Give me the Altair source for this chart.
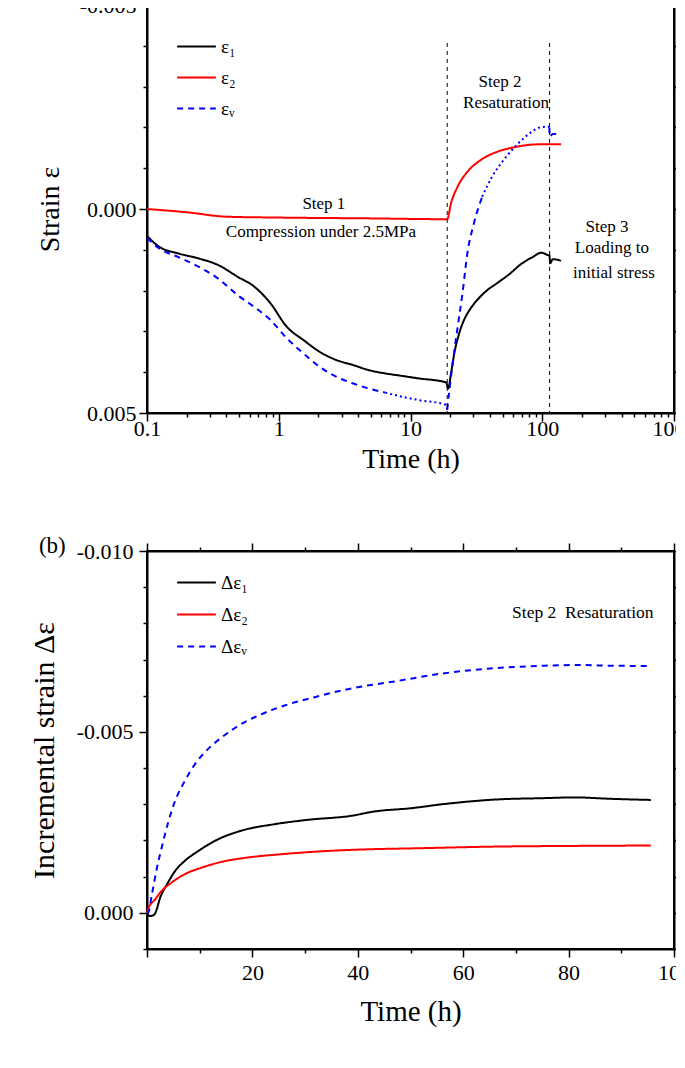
import altair as alt
import pandas as pd

FONT = "Liberation Serif"
MINUS = "\u2212"

# ---------------- Panel (a): strain vs time (log) ----------------
SERIES_A = ["ε₁", "ε₂", "εᵥ"]

E1_T = [0.1, 0.123, 0.173, 0.245, 0.345, 0.487, 0.65, 0.865, 1.153, 1.537,
        2.045, 2.727, 3.63, 4.83, 6.44, 8.59, 11.43, 18.65, 19.3, 20.3,
        21.5, 23.4, 25.5, 28.7, 32.1, 38.2, 45.3, 57.1, 67.8, 85.3,
        98.4, 110.4, 113.5, 114.8, 120.3, 138.8]
E1_V = [0.00066, 0.00092, 0.00109, 0.00121, 0.00137, 0.00166, 0.0019, 0.00231, 0.00289, 0.00321,
        0.0035, 0.0037, 0.00382, 0.00395, 0.00403, 0.00409, 0.00415, 0.00425, 0.0044, 0.00403,
        0.00354, 0.00305, 0.00272, 0.00243, 0.00223, 0.00199, 0.00182, 0.00158, 0.00137, 0.00117,
        0.00107, 0.00113, 0.00114, 0.00133, 0.00123, 0.00127]

E2_T = [0.1, 0.2, 0.41, 1.0, 5.0, 19.0, 20.3, 22.8, 27.0, 34.1, 45.3, 60.4, 85.3, 113.7, 138.8]
E2_V = [0.0, 0.00008, 0.00019, 0.00021, 0.00023, 0.00025, -0.00014, -0.00055, -0.00091, -0.0012,
        -0.0014, -0.00151, -0.00158, -0.00159, -0.00159]

# volumetric strain, drawn in dashed (A, C, E) and dotted (B, D) pieces
EV_A_T = [0.1, 0.123, 0.173, 0.245, 0.345, 0.487, 0.65, 0.865, 1.153, 1.537, 2.045, 2.727, 3.63, 4.83, 6.44]
EV_A_V = [0.00071, 0.00096, 0.00118, 0.00141, 0.0017, 0.00211, 0.0024, 0.00272, 0.00317, 0.00354,
          0.00387, 0.00411, 0.00427, 0.0044, 0.0045]
EV_B_T = [6.44, 8.59, 11.43, 18.65, 19.0]
EV_B_V = [0.0045, 0.0046, 0.00468, 0.0048, 0.00492]
EV_C_T = [19.0, 19.74, 20.9, 22.8, 24.8, 27.0, 30.3, 35.0]
EV_C_V = [0.00492, 0.00444, 0.00378, 0.00289, 0.00207, 0.00109, 0.00035, -0.0003]
EV_D_T = [35.0, 41.6, 50.9, 64.0, 80.6, 95.7, 110.4, 113.3]
EV_D_V = [-0.0003, -0.00079, -0.0012, -0.00157, -0.00186, -0.002, -0.00202, -0.002]
EV_E_T = [113.3, 113.7, 120.3, 138.8]
EV_E_V = [-0.002, -0.00177, -0.00184, -0.00184]

STEP_T = [19.0, 113.7]
STEP_TOP = -0.00407
STEP_BOTTOM = 0.005

ANNOT_A_TEXT = ["Step 1", "Compression under 2.5MPa", "Step 2", "Resaturation",
                "Step 3", "Loading to", "initial stress"]
ANNOT_A_T = [2.2, 2.09, 47.8, 53.1, 310.0, 338.0, 350.0]
ANNOT_A_V = [-0.00012, 0.00056, -0.00311, -0.0026, 0.00044, 0.00096, 0.00157]

X_A_TICKS = [round(m * 10.0 ** e, 6) for e in range(-1, 3) for m in range(1, 10)] + [1000.0]
Y_A_TICKS = [round(i * 0.001, 3) for i in range(-5, 6)]

# ---------------- Panel (b): incremental strain ----------------
SERIES_B = ["Δε₁", "Δε₂", "Δεᵥ"]
D1_T = [0.0, 0.5, 1.2, 1.6, 2.5, 3.8, 5.35, 7.2, 9.75, 12.9, 17.9, 24.2, 30.5, 38.7, 43.1,
        50.0, 56.6, 66.0, 75.5, 81.1, 88.1, 95.6]
D1_V = [-0.00002, 0.00009, 0.00007, 0.0, -0.00042, -0.00079, -0.00116, -0.00144, -0.00171, -0.00199,
        -0.00227, -0.00245, -0.00257, -0.00268, -0.0028, -0.00289, -0.00301, -0.00313, -0.00317,
        -0.00319, -0.00315, -0.00312]
D2_T = [0.0, 0.2, 1.6, 2.8, 4.7, 7.2, 10.4, 14.2, 19.2, 25.5, 34.3, 43.1, 50.0, 66.0, 81.8, 95.6]
D2_V = [0.0, -0.0001, -0.00038, -0.00061, -0.00084, -0.00107, -0.00125, -0.00141, -0.00153,
        -0.00162, -0.00171, -0.00176, -0.00178, -0.00183, -0.00185, -0.00186]
DV_T = [0.0, 0.2, 0.94, 1.9, 2.8, 4.1, 5.35, 7.2, 9.1, 11.6, 14.2, 17.9, 21.1, 26.1, 31.8, 36.8,
        41.8, 47.2, 55.3, 64.2, 70.4, 75.5, 81.4, 88.1, 95.3]
DV_V = [0.0, 0.0, -0.00052, -0.00125, -0.00181, -0.00254, -0.0031, -0.00365, -0.00411, -0.00453,
        -0.00485, -0.00522, -0.00545, -0.00573, -0.00596, -0.00614, -0.00628, -0.0064, -0.0066,
        -0.00674, -0.0068, -0.00683, -0.00685, -0.00683, -0.00682]

ANNOT_B_TEXT = ["Step 2\u00a0 Resaturation", "(b)"]
ANNOT_B_T = [82.7, -20.5]
ANNOT_B_V = [-0.00829, -0.01014]

X_B_TICKS = list(range(0, 101, 10))
Y_B_TICKS = [round(i * 0.001, 3) for i in range(-10, 2)]


def rows(series, seg, ts, vs):
    return [dict(t=t, v=v, series=series, seg=seg) for t, v in zip(ts, vs)]


top_lines = pd.DataFrame(
    rows(SERIES_A[0], "e1", E1_T, E1_V) + rows(SERIES_A[1], "e2", E2_T, E2_V)
    + rows(SERIES_A[2], "vA", EV_A_T, EV_A_V) + rows(SERIES_A[2], "vC", EV_C_T, EV_C_V)
    + rows(SERIES_A[2], "vE", EV_E_T, EV_E_V))
top_dotted = pd.DataFrame(rows(SERIES_A[2], "vB", EV_B_T, EV_B_V) + rows(SERIES_A[2], "vD", EV_D_T, EV_D_V))
steps = pd.DataFrame({"t": STEP_T, "y0": [STEP_TOP] * 2, "y1": [STEP_BOTTOM] * 2})
annot_a = pd.DataFrame({"t": ANNOT_A_T, "v": ANNOT_A_V, "label": ANNOT_A_TEXT})

bot_lines = pd.DataFrame(
    rows(SERIES_B[0], "d1", D1_T, D1_V) + rows(SERIES_B[1], "d2", D2_T, D2_V)
    + rows(SERIES_B[2], "dv", DV_T, DV_V))
annot_b1 = pd.DataFrame({"t": ANNOT_B_T[:1], "v": ANNOT_B_V[:1], "label": ANNOT_B_TEXT[:1]})
annot_b2 = pd.DataFrame({"t": ANNOT_B_T[1:], "v": ANNOT_B_V[1:], "label": ANNOT_B_TEXT[1:]})

COLORS = ["black", "red", "blue"]
DASHES = [[1, 0], [1, 0], [6, 5]]

DECADE = "abs(log(datum.value)/LN10 - round(log(datum.value)/LN10)) < 0.000001"
Y_MAJOR = "abs(datum.value*200 - round(datum.value*200)) < 0.000001"
X_B_MAJOR = "datum.value % 20 == 0"
YFMT = f"replace(format(datum.value, '.3f'), '{MINUS}', '-')"

W_A, H_A = 527, 408
W_B, H_B = 527, 398


def tsize(test, major=8, minor=4):
    return {"condition": {"test": test, "value": major}, "value": minor}


# axes panel (a)
xa_bottom = alt.Axis(values=X_A_TICKS, labelExpr=f"{DECADE} ? format(datum.value, '~g') : ''",
                     tickSize=tsize(DECADE), labelOverlap=False, labelFlush=False,
                     title="Time (h)", titleFontSize=28, titleX=W_A / 2, titleY=46,
                     titleBaseline="middle", labelPadding=-3, labelFont=FONT)
xa_top = alt.Axis(orient="top", values=X_A_TICKS, labels=False, title=None, tickSize=tsize(DECADE))
ya_left = alt.Axis(values=Y_A_TICKS, labelExpr=f"{Y_MAJOR} ? {YFMT} : ''", tickSize=tsize(Y_MAJOR),
                   labelOverlap=False, title="Strain ε", titleFontSize=28, titleX=-97, titleY=H_A / 2,
                   titleAngle=270, titleBaseline="middle", titleAlign="center", labelPadding=3,
                   labelFont=FONT)
ya_right = alt.Axis(orient="right", values=Y_A_TICKS, labels=False, title=None, tickSize=tsize(Y_MAJOR))

# axes panel (b)
xb_bottom = alt.Axis(values=X_B_TICKS,
                     labelExpr=f"{X_B_MAJOR} && datum.value > 0 ? format(datum.value, 'd') : ''",
                     tickSize=tsize(X_B_MAJOR), labelOverlap=False, labelFlush=False,
                     title="Time (h)", titleFontSize=29, titleX=W_B / 2, titleY=62,
                     titleBaseline="middle", labelPadding=5, labelFont=FONT)
xb_top = alt.Axis(orient="top", values=X_B_TICKS, labels=False, title=None, tickSize=tsize(X_B_MAJOR))
yb_left = alt.Axis(values=Y_B_TICKS, labelExpr=f"{Y_MAJOR} ? {YFMT} : ''", tickSize=tsize(Y_MAJOR),
                   labelOverlap=False, title="Incremental strain Δε", titleFontSize=30, titleX=-103,
                   titleY=H_B / 2, titleAngle=270, titleBaseline="middle", titleAlign="center",
                   labelPadding=6, labelFont=FONT)
yb_right = alt.Axis(orient="right", values=Y_B_TICKS, labels=False, title=None, tickSize=tsize(Y_MAJOR))


def legend(y, row_pad):
    return alt.Legend(title=None, orient="none", legendX=29, legendY=y, symbolType="stroke",
                      symbolSize=1500, symbolStrokeWidth=2, labelFont=FONT, labelFontSize=19,
                      labelColor="black", labelOffset=4,
                      rowPadding={"expr": str(row_pad)}, padding=0)


# ---- panel (a)
xs_a = alt.Scale(type="log", domain=[0.1, 1000], nice=False)
ys_a = alt.Scale(domain=[-0.005, 0.005], reverse=True, nice=False, zero=False)
leg_a = legend(21, -1)

lines_a = alt.Chart(top_lines).mark_line(strokeWidth=2, interpolate="monotone").encode(
    x=alt.X("t:Q", scale=xs_a, axis=xa_bottom),
    y=alt.Y("v:Q", scale=ys_a, axis=ya_left),
    color=alt.Color("series:N", scale=alt.Scale(domain=SERIES_A, range=COLORS), legend=leg_a),
    strokeDash=alt.StrokeDash("series:N", scale=alt.Scale(domain=SERIES_A, range=DASHES), legend=leg_a),
    detail="seg:N",
)
dotted_a = alt.Chart(top_dotted).mark_line(strokeWidth=2, color="blue", strokeDash=[2, 3],
                                           interpolate="monotone").encode(
    x=alt.X("t:Q", axis=None), y=alt.Y("v:Q", axis=None), detail="seg:N")
steps_a = alt.Chart(steps).mark_rule(strokeWidth=1, color="black", strokeDash=[4, 4]).encode(
    x=alt.X("t:Q", axis=xa_top), y=alt.Y("y0:Q", axis=ya_right), y2="y1:Q")
text_a = alt.Chart(annot_a).mark_text(font=FONT, fontSize=17, color="black", baseline="middle").encode(
    x=alt.X("t:Q", axis=None), y=alt.Y("v:Q", axis=None), text="label:N")

panel_a = alt.layer(lines_a, dotted_a, steps_a, text_a).resolve_axis(
    x="independent", y="independent").properties(width=W_A, height=H_A)

# ---- panel (b)
xs_b = alt.Scale(domain=[0, 100], nice=False, zero=False)
ys_b = alt.Scale(domain=[-0.010, 0.001], reverse=True, nice=False, zero=False)
leg_b = legend(11, 1)

lines_b = alt.Chart(bot_lines).mark_line(strokeWidth=2, interpolate="monotone").encode(
    x=alt.X("t:Q", scale=xs_b, axis=xb_bottom),
    y=alt.Y("v:Q", scale=ys_b, axis=yb_left),
    color=alt.Color("series:N", scale=alt.Scale(domain=SERIES_B, range=COLORS), legend=leg_b),
    strokeDash=alt.StrokeDash("series:N", scale=alt.Scale(domain=SERIES_B, range=DASHES), legend=leg_b),
    detail="seg:N",
)
mirror_b = alt.Chart(bot_lines).mark_line(opacity=0).encode(
    x=alt.X("t:Q", axis=xb_top), y=alt.Y("v:Q", axis=yb_right), detail="seg:N")
text_b1 = alt.Chart(annot_b1).mark_text(font=FONT, fontSize=17.5, color="black",
                                        baseline="middle", align="center").encode(
    x=alt.X("t:Q", axis=None), y=alt.Y("v:Q", axis=None), text="label:N")
text_b2 = alt.Chart(annot_b2).mark_text(font=FONT, fontSize=23, color="black",
                                        baseline="middle", align="left").encode(
    x=alt.X("t:Q", axis=None), y=alt.Y("v:Q", axis=None), text="label:N")

panel_b = alt.layer(lines_b, mirror_b, text_b1, text_b2).resolve_axis(
    x="independent", y="independent").properties(width=W_B, height=H_B)

chart = alt.vconcat(panel_a, panel_b, spacing=59).resolve_scale(
    color="independent", strokeDash="independent").properties(
    padding={"left": 20, "top": -15, "right": -21, "bottom": 5},
    background="white",
).configure_view(stroke="black", strokeWidth=2).configure_axis(
    labelFont=FONT, labelFontSize=22, labelColor="black", titleFont=FONT, titleColor="black",
    titleFontWeight="normal", domainColor="black", domainWidth=2, tickColor="black", tickWidth=1.5,
    grid=False,
)

chart.save("out.html", embed_options={"renderer": "svg", "actions": False})
